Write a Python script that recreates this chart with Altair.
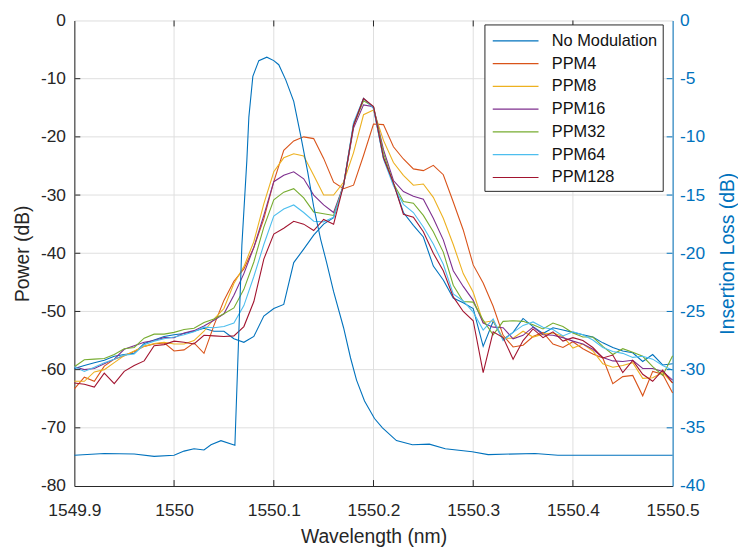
import altair as alt
import pandas as pd

# ---------------- data ----------------
wavelength = [1549.90, 1549.91, 1549.92, 1549.93, 1549.94, 1549.95, 1549.96, 1549.97, 1549.98, 1549.99,
              1550.00, 1550.01, 1550.02, 1550.03, 1550.04, 1550.05, 1550.06, 1550.07, 1550.08, 1550.09,
              1550.10, 1550.11, 1550.12, 1550.13, 1550.14, 1550.15, 1550.16, 1550.17, 1550.18, 1550.19,
              1550.20, 1550.21, 1550.22, 1550.23, 1550.24, 1550.25, 1550.26, 1550.27, 1550.28, 1550.29,
              1550.30, 1550.31, 1550.32, 1550.33, 1550.34, 1550.35, 1550.36, 1550.37, 1550.38, 1550.39,
              1550.40, 1550.41, 1550.42, 1550.43, 1550.44, 1550.45, 1550.46, 1550.47, 1550.48, 1550.49,
              1550.50]

series_names = ["No Modulation", "PPM4", "PPM8", "PPM16", "PPM32", "PPM64", "PPM128"]
series_colors = ["#0072BD", "#D95319", "#EDB120", "#7E2F8E", "#77AC30", "#4DBEEE", "#A2142F"]

no_mod = [-59.8, -59.3, -58.8, -58.4, -57.7, -57.4, -57.2, -55.5, -54.9, -54.3, -54.0,
          -53.8, -53.4, -52.9, -53.4, -53.4, -54.7, -55.3, -54.3, -50.8, -49.5,
          -48.8, -41.6, -39.3, -36.9, -35.0, -33.9, -28.2, -17.9, -13.4, -15.1,
          -23.6, -28.0, -33.0, -35.2, -37.2, -42.2, -44.6, -47.7, -48.5, -49.5,
          -56.0, -51.7, -54.8, -53.6, -51.2, -52.6, -53.8, -52.8, -53.2, -53.6,
          -54.0, -54.4, -55.4, -56.2, -56.8, -57.1, -58.6, -57.4, -59.2, -59.0]

ppm4 = [-63.3, -61.3, -62.0, -59.4, -58.2, -57.6, -56.9, -56.0, -55.6, -55.4, -56.8,
        -56.6, -55.4, -57.2, -52.4, -48.1, -44.8, -42.7, -39.0, -34.1, -27.7,
        -22.3, -20.7, -20.0, -20.3, -23.7, -27.8, -28.9, -28.3, -23.2, -17.8,
        -17.9, -21.7, -23.8, -25.5, -25.8, -24.9, -26.5, -31.2, -36.0, -42.0,
        -45.1, -49.1, -54.1, -56.1, -55.8, -54.3, -53.6, -55.6, -56.2, -55.2,
        -56.4, -57.3, -58.0, -62.4, -61.2, -61.0, -64.5, -60.3, -60.8, -64.0]

ppm8 = [-62.0, -62.0, -60.4, -60.0, -58.8, -57.6, -56.8, -56.0, -55.5, -55.3, -55.6,
        -55.6, -55.0, -53.4, -51.3, -49.5, -45.2, -42.3, -38.0, -31.5, -26.0,
        -23.6, -22.9, -23.3, -26.6, -30.0, -30.0, -27.8, -22.7, -16.2, -15.4,
        -20.6, -24.4, -26.6, -28.3, -28.1, -30.4, -34.0, -38.5, -43.5, -46.7,
        -51.9, -51.6, -54.6, -54.6, -53.4, -54.4, -53.9, -53.7, -54.3, -56.3,
        -55.6, -56.8, -59.0, -59.6, -59.3, -58.8, -61.5, -61.4, -60.5, -62.3]

ppm16 = [-59.5, -60.0, -59.8, -59.0, -58.2, -56.5, -55.9, -55.3, -55.0, -54.5, -54.5,
         -53.7, -53.3, -52.5, -51.5, -50.4, -47.2, -43.5, -39.0, -33.5, -27.7,
         -26.6, -26.0, -27.2, -30.0, -31.7, -33.0, -28.3, -18.5, -14.5, -14.8,
         -22.2, -27.5, -29.4, -30.2, -30.7, -34.0, -37.7, -43.0, -45.7, -48.1,
         -52.0, -52.7, -52.8, -54.7, -54.1, -52.7, -54.0, -54.1, -54.5, -55.1,
         -55.6, -56.5, -57.9, -58.5, -58.6, -58.4, -59.8, -59.8, -60.3, -61.8]

ppm32 = [-59.5, -58.3, -58.2, -58.1, -57.4, -56.4, -56.2, -54.6, -53.9, -53.9, -53.6,
         -53.1, -52.9, -51.9, -51.3, -50.4, -49.4, -46.2, -41.5, -35.5, -30.8,
         -29.5, -28.9, -30.5, -32.9, -33.2, -33.5, -28.3, -18.0, -13.8, -14.8,
         -22.8, -28.0, -31.1, -31.4, -33.5, -36.3, -39.8, -45.5, -48.3, -48.4,
         -51.5, -54.0, -51.7, -51.6, -51.7, -52.3, -53.0, -52.0, -52.6, -53.7,
         -54.4, -54.4, -56.0, -57.4, -56.4, -57.0, -57.7, -59.5, -61.0, -57.6]

ppm64 = [-59.5, -60.3, -59.6, -58.8, -58.2, -57.5, -57.3, -55.7, -55.1, -54.7, -54.4,
         -54.0, -53.5, -52.7, -52.8, -52.6, -52.0, -49.0, -44.0, -38.5, -33.6,
         -32.4, -31.7, -33.0, -34.5, -34.6, -33.8, -28.3, -17.5, -13.4, -15.0,
         -23.8, -28.4, -31.6, -33.0, -35.5, -38.4, -41.9, -47.0, -48.2, -50.1,
         -53.2, -51.3, -55.0, -53.6, -52.4, -51.8, -52.7, -53.1, -54.2, -53.5,
         -54.0, -54.9, -56.2, -56.9, -57.2, -57.9, -57.7, -58.2, -59.3, -60.1]

ppm128 = [-62.3, -62.5, -63.0, -60.6, -62.4, -60.3, -59.3, -58.5, -55.9, -55.7, -55.1,
          -55.3, -55.6, -54.1, -54.2, -54.3, -54.2, -52.6, -48.3, -41.0, -36.7,
          -35.7, -34.5, -35.0, -36.1, -34.2, -35.0, -28.3, -18.0, -13.4, -14.8,
          -23.6, -27.9, -33.3, -33.8, -36.3, -40.0, -43.0, -47.5, -50.0, -51.6,
          -60.5, -53.5, -54.5, -58.2, -55.0, -53.0, -54.5, -53.5, -55.1, -54.5,
          -55.0, -56.2, -58.0, -57.5, -60.5, -58.4, -60.8, -62.0, -60.1, -62.3]

# filter transmission (right axis, insertion loss)
filter_wl = [1549.90, 1549.93, 1549.96, 1549.98, 1550.00, 1550.01, 1550.02, 1550.03, 1550.037,
             1550.047, 1550.061, 1550.068, 1550.073, 1550.075, 1550.079, 1550.085, 1550.093,
             1550.100, 1550.105, 1550.112, 1550.120, 1550.127, 1550.134, 1550.140, 1550.147,
             1550.153, 1550.160, 1550.170, 1550.177, 1550.183, 1550.191, 1550.201, 1550.209,
             1550.223, 1550.239, 1550.256, 1550.272, 1550.299, 1550.315, 1550.362, 1550.385,
             1550.500]
filter_il = [-37.35, -37.2, -37.25, -37.45, -37.35, -37.0, -36.8, -36.9, -36.45,
             -36.1, -36.5, -19.3, -12.0, -8.3, -4.8, -3.45, -3.15,
             -3.45, -3.8, -5.1, -6.95, -9.9, -13.0, -16.0, -18.8,
             -20.8, -23.3, -26.4, -29.0, -30.9, -32.7, -34.2, -35.0,
             -36.1, -36.45, -36.4, -36.8, -37.05, -37.3, -37.2, -37.35,
             -37.35]

x_ticks = [1549.9, 1550.0, 1550.1, 1550.2, 1550.3, 1550.4, 1550.5]
left_ticks = [-80, -70, -60, -50, -40, -30, -20, -10, 0]
right_ticks = [-40, -35, -30, -25, -20, -15, -10, -5, 0]

# ---------------- tables ----------------
all_series = [no_mod, ppm4, ppm8, ppm16, ppm32, ppm64, ppm128]
rows = []
for name, vals in zip(series_names, all_series):
    for w, v in zip(wavelength, vals):
        rows.append({"wl": w, "power": v, "series": name})
df = pd.DataFrame(rows)
df_filter = pd.DataFrame({"wl": filter_wl, "il": filter_il})
df_xt = pd.DataFrame({"t": x_ticks[1:-1]})
df_lt = pd.DataFrame({"t": left_ticks[1:-1]})
df_rt = pd.DataFrame({"t": right_ticks[1:-1]})

W, H = 604, 470
FONT = "Liberation Sans"
DARK = "#262626"
BLUE = "#0072BD"
GRID = "#dfdfdf"

xscale = alt.Scale(domain=[1549.9, 1550.5], nice=False, zero=False)
lscale = alt.Scale(domain=[-80, 0], nice=False, zero=False)
rscale = alt.Scale(domain=[-40, 0], nice=False, zero=False)

x_axis = alt.Axis(values=x_ticks, format=".1~f", title="Wavelength (nm)",
                  grid=False, ticks=False, domainColor=DARK, domainWidth=1,
                  labelFontSize=17.5, labelColor=DARK, labelFont=FONT,
                  labelPadding=30, labelBaseline="alphabetic",
                  labelFlush=False, labelOverlap=False,
                  titleFontSize=19.5, titleFont=FONT, titleColor=DARK,
                  titleFontWeight="normal", titleX=W / 2, titleY=57,
                  titleBaseline="alphabetic", titleAlign="center")

left_axis = alt.Axis(values=left_ticks, labelExpr="'' + datum.value", title="Power (dB)",
                     grid=False, ticks=False, domainColor=DARK, domainWidth=1,
                     labelFontSize=17.5, labelColor=DARK, labelFont=FONT,
                     labelPadding=9, labelFlush=False, labelOverlap=False,
                     titleFontSize=19.5, titleFont=FONT, titleColor=DARK,
                     titleFontWeight="normal", titleAngle=270, titleX=-52, titleY=H / 2,
                     titleBaseline="middle", titleAlign="center")

right_axis = alt.Axis(values=right_ticks, labelExpr="'' + datum.value", orient="right",
                      title="Insertion Loss (dB)", grid=False,
                      ticks=False, domainColor=BLUE, domainWidth=1,
                      labelFontSize=17.5, labelColor=BLUE, labelFont=FONT,
                      labelPadding=7, labelFlush=False, labelOverlap=False,
                      titleFontSize=19.5, titleFont=FONT, titleColor=BLUE,
                      titleFontWeight="normal", titleAngle=270, titleX=55, titleY=H / 2,
                      titleBaseline="middle", titleAlign="center")

legend = alt.Legend(orient="none", legendX=414, legendY=4, title=None,
                    symbolType="M-2.2,0H2.2", symbolSize=441, symbolStrokeWidth=1.2,
                    labelFontSize=16.5, labelFont=FONT, labelColor="#111111",
                    fillColor="white", strokeColor=DARK, padding=5, rowPadding=3,
                    symbolOffset=15, labelOffset=25)

# grid lines (drawn first, beneath everything)
vgrid = alt.Chart(df_xt).mark_rule(color=GRID, strokeWidth=1).encode(
    x=alt.X("t:Q", scale=xscale), y=alt.value(0), y2=alt.value(H))
hgrid = alt.Chart(df_lt).mark_rule(color=GRID, strokeWidth=1).encode(
    y=alt.Y("t:Q", scale=lscale, axis=None), x=alt.value(0), x2=alt.value(W))

lines = alt.Chart(df).mark_line(strokeWidth=1.1).encode(
    x=alt.X("wl:Q", scale=xscale, axis=x_axis),
    y=alt.Y("power:Q", scale=lscale, axis=left_axis),
    color=alt.Color("series:N", scale=alt.Scale(domain=series_names, range=series_colors),
                    legend=legend),
)

filt = alt.Chart(df_filter).mark_line(strokeWidth=1.1, color=BLUE).encode(
    x=alt.X("wl:Q", scale=xscale),
    y=alt.Y("il:Q", scale=rscale, axis=right_axis),
)

bottom_ticks = alt.Chart(df_xt).mark_rule(color=DARK, strokeWidth=1).encode(
    x=alt.X("t:Q", scale=xscale), y=alt.value(H), y2=alt.value(H - 6))
top_ticks = alt.Chart(df_xt).mark_rule(color=DARK, strokeWidth=1).encode(
    x=alt.X("t:Q", scale=xscale), y=alt.value(0), y2=alt.value(6))
left_tick_marks = alt.Chart(df_lt).mark_rule(color=DARK, strokeWidth=1).encode(
    y=alt.Y("t:Q", scale=lscale, axis=None), x=alt.value(0), x2=alt.value(6))
right_tick_marks = alt.Chart(df_rt).mark_rule(color=BLUE, strokeWidth=1).encode(
    y=alt.Y("t:Q", scale=rscale, axis=None), x=alt.value(W), x2=alt.value(W - 6))

chart = alt.layer(vgrid, hgrid, lines, filt, bottom_ticks, top_ticks,
                  left_tick_marks, right_tick_marks
                  ).resolve_scale(y="independent").properties(
    width=W, height=H,
    padding={"left": 67, "top": 10, "right": 66, "bottom": 63},
    autosize=alt.AutoSizeParams(type="none"),
    background="white",
).configure_view(stroke=DARK, strokeWidth=1).configure(font=FONT)

chart.save("out.html", embed_options={"renderer": "svg", "actions": False})
